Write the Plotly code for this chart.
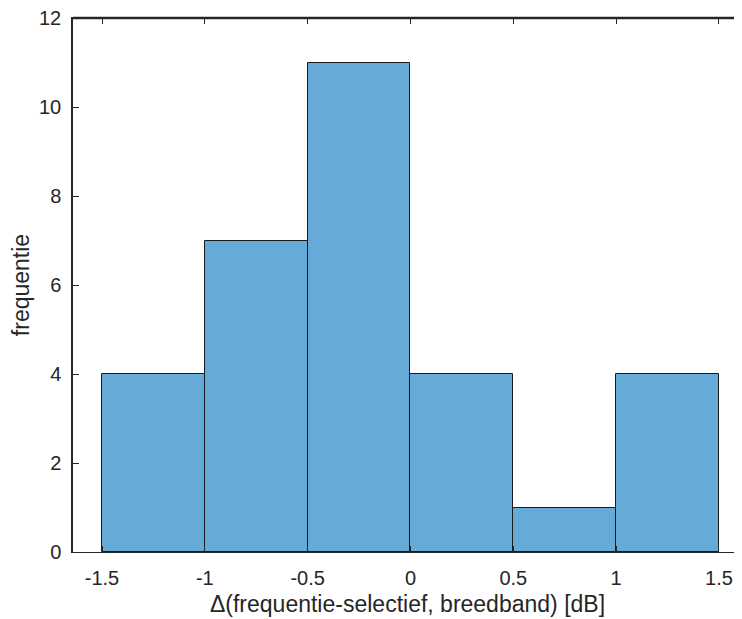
import plotly.graph_objects as go

bin_edges = [-1.5, -1.0, -0.5, 0.0, 0.5, 1.0, 1.5]
counts = [4, 7, 11, 4, 1, 4]
x_ticks = [-1.5, -1, -0.5, 0, 0.5, 1, 1.5]
x_tick_labels = ["-1.5", "-1", "-0.5", "0", "0.5", "1", "1.5"]
y_ticks = [0, 2, 4, 6, 8, 10, 12]

centers = [(a + b) / 2 for a, b in zip(bin_edges[:-1], bin_edges[1:])]
widths = [b - a for a, b in zip(bin_edges[:-1], bin_edges[1:])]

axis_col = "#262626"
font = dict(family="Liberation Sans, Arial, sans-serif", size=20, color=axis_col)

fig = go.Figure()
fig.add_trace(go.Bar(x=centers, y=counts, width=widths,
                     marker=dict(color="#66aad7", line=dict(color="#1a1a1a", width=1)),
                     showlegend=False, hoverinfo="skip"))

# the page body has an 8px margin, so the figure is shrunk by 8px
xrange = [-1.641, 1.612]
fig.update_layout(
    width=734, height=611,
    margin=dict(l=65, r=0, t=10, b=67),
    paper_bgcolor="white", plot_bgcolor="white",
    font=font,
    bargap=0,
    xaxis=dict(range=xrange, tickvals=x_ticks, ticktext=x_tick_labels, automargin=False,
               showline=True, linecolor=axis_col, linewidth=1, mirror="ticks",
               ticks="inside", ticklen=6, tickcolor=axis_col, showgrid=False, zeroline=False,
               ticklabelstandoff=8, ticklabeloverflow="allow",
               title=dict(text="Δ(frequentie-selectief, breedband) [dB]", standoff=7,
                          font=dict(size=23)), fixedrange=True),
    yaxis=dict(range=[0, 12], tickvals=y_ticks, showline=True, linecolor=axis_col,
               linewidth=1.5, mirror=False, ticks="inside", ticklen=6, tickcolor=axis_col,
               showgrid=False, zeroline=False, automargin=False, ticklabelstandoff=6,
               ticklabeloverflow="allow",
               title=dict(text="frequentie", standoff=6, font=dict(size=23))),
    shapes=[dict(type="line", xref="paper", x0=0, x1=1, yref="paper", y0=1, y1=1,
                 line=dict(color=axis_col, width=2.5), layer="above")],
)
fig.write_html("out.html")
